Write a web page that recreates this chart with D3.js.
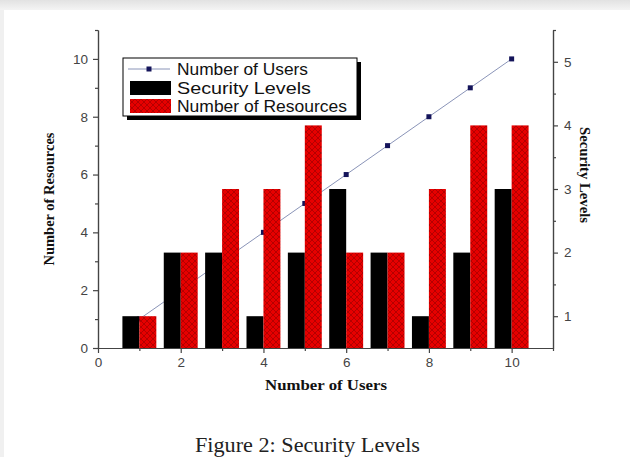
<!DOCTYPE html>
<html><head><meta charset="utf-8">
<script src="https://cdn.jsdelivr.net/npm/d3@7"></script>
<style>body{margin:0;background:#fff}svg{display:block}</style>
</head><body>
<svg id="c" width="630" height="457"></svg>
<script>
const users = [1,2,3,4,5,6,7,8,9,10];
const numUsers = [1,2,3,4,5,6,7,8,9,10];
const securityLevels = [1,2,2,1,2,3,2,1,2,3];
const numResources = [1,2,3,3,4,2,2,3,4,4];
const leftTicks = [0,2,4,6,8,10];
const rightTicks = [1,2,3,4,5];
const xTicks = [0,2,4,6,8,10];

const svg = d3.select("#c");
const defs = svg.append("defs");
const grad = defs.append("linearGradient").attr("id","tg").attr("x1",0).attr("y1",0).attr("x2",0).attr("y2",1);
grad.append("stop").attr("offset","0%").attr("stop-color","#e2e2e2");
grad.append("stop").attr("offset","100%").attr("stop-color","#f4f4f4");
svg.append("rect").attr("x",0).attr("y",0).attr("width",630).attr("height",10).attr("fill","url(#tg)");
svg.append("rect").attr("x",0).attr("y",10).attr("width",4).attr("height",447).attr("fill","#f0f0f0");

const pat = defs.append("pattern").attr("id","hatch").attr("patternUnits","userSpaceOnUse").attr("width",6).attr("height",6);
pat.append("rect").attr("width",6).attr("height",6).attr("fill","#e60000");
pat.append("path").attr("d","M0,0L6,6M6,0L0,6").attr("stroke","#a00000").attr("stroke-width",0.7);

const x = d3.scaleLinear().domain([0,11]).range([98,553]);
const yL = d3.scaleLinear().domain([0,11]).range([348,30]);
const yR = d3.scaleLinear().domain([0.5,5.5]).range([348,30]);
const bw = x(0.41)-x(0);
const axisColor = "#444";

// line
svg.append("path").datum(users.map((u,i)=>[u,numUsers[i]]))
  .attr("d", d3.line().x(d=>x(d[0])).y(d=>yL(d[1])))
  .attr("fill","none").attr("stroke","#8a94b8").attr("stroke-width",1);
svg.selectAll(".mk").data(users).enter().append("rect")
  .attr("x",(d,i)=>x(d)-2.5).attr("y",(d,i)=>yL(numUsers[i])-2.5)
  .attr("width",5).attr("height",5).attr("fill","#14145a");

// bars
svg.selectAll(".sb").data(users).enter().append("rect")
  .attr("x",d=>x(d)-bw).attr("width",bw)
  .attr("y",(d,i)=>yR(securityLevels[i])).attr("height",(d,i)=>yR.range()[0]-yR(securityLevels[i]))
  .attr("fill","#000");
svg.selectAll(".rb").data(users).enter().append("rect")
  .attr("x",d=>x(d)).attr("width",bw)
  .attr("y",(d,i)=>yR(numResources[i])).attr("height",(d,i)=>yR.range()[0]-yR(numResources[i]))
  .attr("fill","url(#hatch)");

// axes
function styleAxis(g){
  g.select(".domain").attr("stroke",axisColor).attr("stroke-width",1.2);
  g.selectAll(".tick line").attr("stroke",axisColor).attr("stroke-width",1.2);
  g.selectAll(".tick text").attr("fill","#444").attr("font-family","Liberation Sans, Arial, sans-serif").attr("font-size",13.5);
}
const gL = svg.append("g").attr("transform",`translate(${x(0)},0)`)
  .call(d3.axisLeft(yL).tickValues(leftTicks).tickSize(5).tickSizeOuter(0).tickPadding(5));
styleAxis(gL);
svg.append("g").attr("transform",`translate(${x(0)},0)`)
  .call(d3.axisLeft(yL).tickValues([1,3,5,7,9,11]).tickSize(3).tickFormat("").tickSizeOuter(0)).call(styleAxis);

const gR = svg.append("g").attr("transform",`translate(${x(11)},0)`)
  .call(d3.axisRight(yR).tickValues(rightTicks).tickFormat(d3.format("d")).tickSize(5).tickSizeOuter(0).tickPadding(6));
styleAxis(gR);
svg.append("g").attr("transform",`translate(${x(11)},0)`)
  .call(d3.axisRight(yR).tickValues([1.5,2.5,3.5,4.5,5.5]).tickSize(3).tickFormat("").tickSizeOuter(0)).call(styleAxis);

const gB = svg.append("g").attr("transform",`translate(0,${yL(0)})`)
  .call(d3.axisBottom(x).tickValues(xTicks).tickSize(5).tickSizeOuter(0).tickPadding(4));
styleAxis(gB);
svg.append("g").attr("transform",`translate(0,${yL(0)})`)
  .call(d3.axisBottom(x).tickValues([1,3,5,7,9,11]).tickSize(3).tickFormat("").tickSizeOuter(0)).call(styleAxis);

// axis titles
const serif = "Liberation Serif, Times New Roman, serif";
svg.append("text").attr("transform","translate(54,199) rotate(-90)").attr("text-anchor","middle")
  .attr("font-family",serif).attr("font-weight","bold").attr("font-size",14).attr("fill","#111")
  .attr("textLength",133).attr("lengthAdjust","spacingAndGlyphs").text("Number of Resources");
svg.append("text").attr("transform","translate(580,175) rotate(90)").attr("text-anchor","middle")
  .attr("font-family",serif).attr("font-weight","bold").attr("font-size",14).attr("fill","#111")
  .attr("textLength",96).attr("lengthAdjust","spacingAndGlyphs").text("Security Levels");
svg.append("text").attr("x",326).attr("y",390).attr("text-anchor","middle")
  .attr("font-family",serif).attr("font-weight","bold").attr("font-size",15).attr("fill","#111")
  .attr("textLength",122).attr("lengthAdjust","spacingAndGlyphs").text("Number of Users");
svg.append("text").attr("x",307.5).attr("y",452).attr("text-anchor","middle")
  .attr("font-family",serif).attr("font-size",20).attr("fill","#222")
  .attr("textLength",225).attr("lengthAdjust","spacingAndGlyphs").text("Figure 2: Security Levels");

// legend
const lg = svg.append("g");
lg.append("rect").attr("x",127).attr("y",62).attr("width",234).attr("height",58).attr("fill","#000");
lg.append("rect").attr("x",123).attr("y",58).attr("width",234).attr("height",58).attr("fill","#fff").attr("stroke","#000").attr("stroke-width",1);
const sans = "Liberation Sans, Arial, sans-serif";
const legendItems = ["Number of Users","Security Levels","Number of Resources"];
lg.append("line").attr("x1",128).attr("x2",170).attr("y1",69).attr("y2",69).attr("stroke","#8a94b8").attr("stroke-width",1);
lg.append("rect").attr("x",146.5).attr("y",66.5).attr("width",5).attr("height",5).attr("fill","#14145a");
lg.append("rect").attr("x",130).attr("y",81).attr("width",41).attr("height",14).attr("fill","#000");
lg.append("rect").attr("x",130).attr("y",99).attr("width",41).attr("height",14).attr("fill","url(#hatch)");
const lw = [131,134,170];
lg.selectAll(".lt").data(legendItems).enter().append("text")
  .attr("x",177).attr("y",(d,i)=>75+i*18.5).attr("font-family",sans).attr("font-size",16.5).attr("fill","#111")
  .attr("textLength",(d,i)=>lw[i]).attr("lengthAdjust","spacingAndGlyphs").text(d=>d);
</script>
</body></html>
